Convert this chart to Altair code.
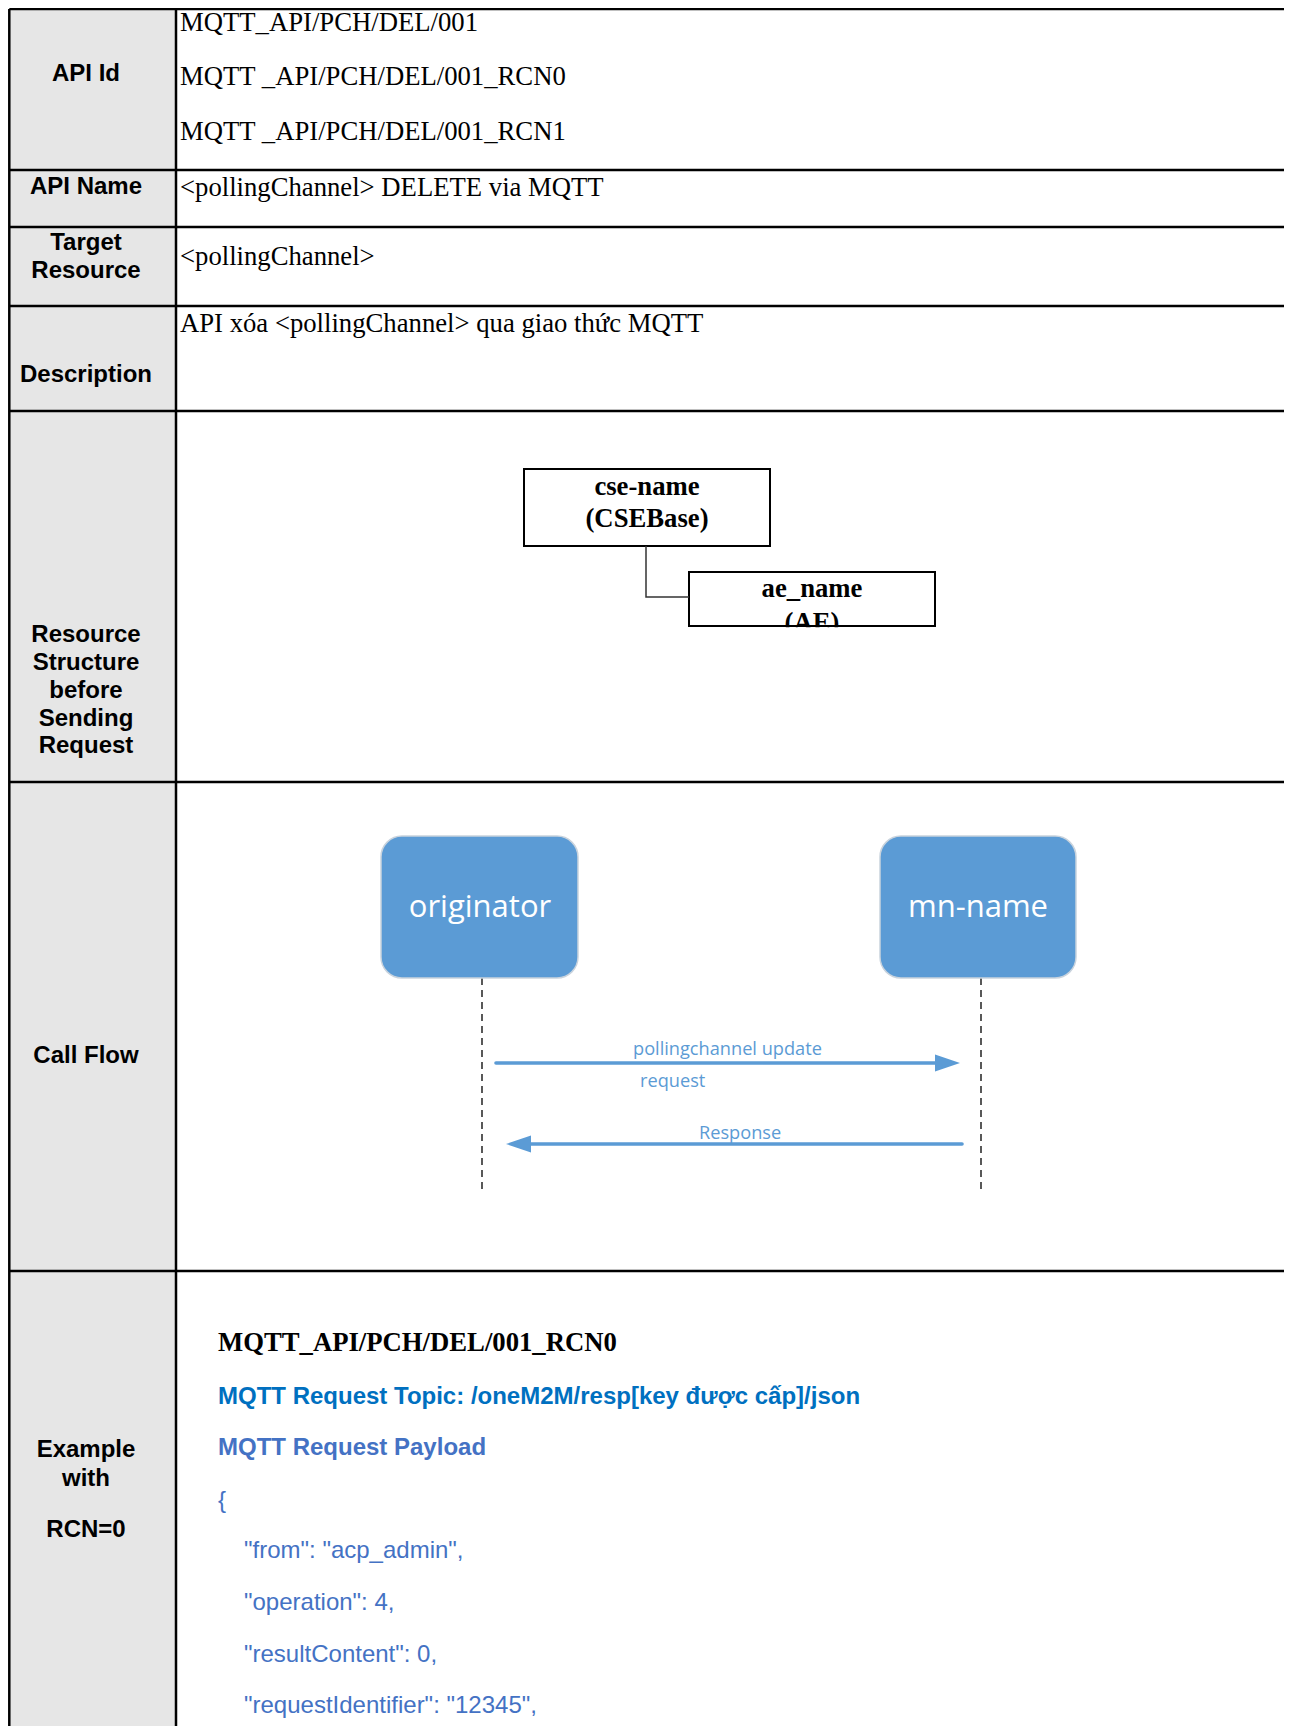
import altair as alt
import pandas as pd

# ---------------- data ----------------
# table grid
row_lines_y = [9, 170, 227, 306, 411, 782, 1271]
col_lines_x = [9.3, 176]

# left header column labels (centre x, baseline y)
head_text = ["API Id", "API Name", "Target", "Resource", "Description",
             "Resource", "Structure", "before", "Sending", "Request",
             "Call Flow", "Example", "with", "RCN=0"]
head_y = [81, 194, 250, 278, 382, 642, 670, 698, 726, 753, 1063, 1457, 1486, 1537]

# right column serif lines
body_text = ["MQTT_API/PCH/DEL/001", "MQTT _API/PCH/DEL/001_RCN0",
             "MQTT _API/PCH/DEL/001_RCN1", "<pollingChannel> DELETE via MQTT",
             "<pollingChannel>", "API xóa <pollingChannel> qua giao thức MQTT"]
body_y = [31, 85, 140, 196, 265, 332]

# resource-structure boxes
box_name = ["cse", "ae"]
box_x1 = [524, 689]
box_x2 = [770, 935]
box_y1 = [469, 572]
box_y2 = [546, 626]
box_text = ["cse-name", "(CSEBase)", "ae_name", "(AE)"]
box_text_x = [647, 647, 812, 812]
box_text_y = [495, 527, 597, 631]
conn_x = [646, 646, 689]
conn_y = [546, 597, 597]

# call flow actors
actor_text = ["originator", "mn-name"]
actor_x1 = [381, 880]
actor_x2 = [578, 1076]
actor_y1 = [836, 836]
actor_y2 = [978, 978]
actor_cx = [480, 978]
actor_base = [917, 917]
life_x = [482, 981]
life_y1 = [978, 978]
life_y2 = [1191, 1191]

# messages
msg_x1 = [496, 962]
msg_x2 = [940, 526]
msg_y = [1063, 1144]
head_r_x, head_r_y = [947.5], [1063]
head_l_x, head_l_y = [518.5], [1144]
msg_text = ["pollingchannel update", "request", "Response"]
msg_text_x = [633, 640, 699]
msg_text_y = [1055, 1087, 1139]

# example block
ex_title = ["MQTT_API/PCH/DEL/001_RCN0"]
ex_title_y = [1351]
topic_text = ["MQTT Request Topic: /oneM2M/resp[key được cấp]/json"]
topic_y = [1404]
payload_text = ["MQTT Request Payload"]
payload_y = [1455]
json_text = ["{", "\"from\": \"acp_admin\",", "\"operation\": 4,",
             "\"resultContent\": 0,", "\"requestIdentifier\": \"12345\","]
json_x = [218, 244, 244, 244, 244]
json_y = [1508, 1558, 1610, 1662, 1713]

# ---------------- scales ----------------
W, H = 1276, 1718
xs = alt.Scale(domain=[8, 8 + W])
ys = alt.Scale(domain=[8, 8 + H], reverse=True)
X = lambda f: alt.X(f, type="quantitative", scale=xs, axis=None)
Y = lambda f: alt.Y(f, type="quantitative", scale=ys, axis=None)
X2 = lambda f: alt.X2(f)
Y2 = lambda f: alt.Y2(f)

SANS = "Liberation Sans"
SERIF = "Liberation Serif"
UI = "Open Sans"

layers = []

# left column fill
fill = pd.DataFrame({"x1": [col_lines_x[0]], "x2": [col_lines_x[1]], "y1": [row_lines_y[0]], "y2": [1740]})
layers.append(alt.Chart(fill).mark_rect(color="#E6E6E6", clip=True).encode(
    x=X("x1"), x2=X2("x2"), y=Y("y1"), y2=Y2("y2")))

# horizontal grid lines
hl = pd.DataFrame({"y": row_lines_y, "x1": col_lines_x[0], "x2": 1300})
layers.append(alt.Chart(hl).mark_rule(color="black", strokeWidth=2.5, clip=True).encode(
    x=X("x1"), x2=X2("x2"), y=Y("y")))
# vertical grid lines
vl = pd.DataFrame({"x": col_lines_x, "y1": row_lines_y[0], "y2": 1740})
layers.append(alt.Chart(vl).mark_rule(color="black", strokeWidth=2.5, clip=True).encode(
    x=X("x"), y=Y("y1"), y2=Y2("y2")))

# header labels
hd = pd.DataFrame({"t": head_text, "x": 86, "y": head_y})
layers.append(alt.Chart(hd).mark_text(font=SANS, fontSize=24, fontWeight="bold", color="#000000",
                                      align="center", baseline="alphabetic").encode(
    x=X("x"), y=Y("y"), text="t:N"))

# body serif text
bd = pd.DataFrame({"t": body_text, "x": 180, "y": body_y})
layers.append(alt.Chart(bd).mark_text(font=SERIF, fontSize=26.7, color="#000000",
                                      align="left", baseline="alphabetic").encode(
    x=X("x"), y=Y("y"), text="t:N"))

# structure boxes
bx = pd.DataFrame({"n": box_name, "x1": box_x1, "x2": box_x2, "y1": box_y1, "y2": box_y2})
layers.append(alt.Chart(bx).mark_rect(fill="white", stroke="black", strokeWidth=2).encode(
    x=X("x1"), x2=X2("x2"), y=Y("y1"), y2=Y2("y2")))
cn = pd.DataFrame({"x": conn_x, "y": conn_y, "o": [0, 1, 2]})
layers.append(alt.Chart(cn).mark_line(color="#333333", strokeWidth=1.5).encode(
    x=X("x"), y=Y("y"), order="o:Q"))
bt = pd.DataFrame({"t": box_text, "x": box_text_x, "y": box_text_y})
layers.append(alt.Chart(bt).mark_text(font=SERIF, fontSize=26.7, fontWeight="bold", color="black",
                                      align="center", baseline="alphabetic").encode(
    x=X("x"), y=Y("y"), text="t:N"))
# clip the "(AE)" label under the box bottom edge
cover = pd.DataFrame({"x1": [box_x1[1] + 10], "x2": [box_x2[1] - 10], "y1": [box_y2[1] + 1.2], "y2": [box_y2[1] + 14]})
layers.append(alt.Chart(cover).mark_rect(color="white").encode(
    x=X("x1"), x2=X2("x2"), y=Y("y1"), y2=Y2("y2")))
bot = pd.DataFrame({"x1": [box_x1[1]], "x2": [box_x2[1]], "y": [box_y2[1]]})
layers.append(alt.Chart(bot).mark_rule(color="black", strokeWidth=2).encode(
    x=X("x1"), x2=X2("x2"), y=Y("y")))

# lifelines
lf = pd.DataFrame({"x": life_x, "y1": life_y1, "y2": life_y2})
layers.append(alt.Chart(lf).mark_rule(color="black", strokeWidth=1.3, strokeDash=[7, 5]).encode(
    x=X("x"), y=Y("y1"), y2=Y2("y2")))

# actors
ac = pd.DataFrame({"t": actor_text, "x1": actor_x1, "x2": actor_x2, "y1": actor_y1, "y2": actor_y2,
                   "cx": actor_cx, "by": actor_base})
layers.append(alt.Chart(ac).mark_rect(fill="#5B9BD5", stroke="#C9D3DD", strokeWidth=1.5, cornerRadius=21).encode(
    x=X("x1"), x2=X2("x2"), y=Y("y1"), y2=Y2("y2")))
layers.append(alt.Chart(ac).mark_text(font=UI, fontSize=31, color="white",
                                      align="center", baseline="alphabetic").encode(
    x=X("cx"), y=Y("by"), text="t:N"))

# messages
ms = pd.DataFrame({"x1": msg_x1, "x2": msg_x2, "y": msg_y})
layers.append(alt.Chart(ms).mark_rule(color="#5B9BD5", strokeWidth=3.6, strokeCap="round").encode(
    x=X("x1"), x2=X2("x2"), y=Y("y")))
hr = pd.DataFrame({"x": head_r_x, "y": head_r_y})
layers.append(alt.Chart(hr).mark_point(shape="M-1,-0.68L1,0L-1,0.68Z", size=625, filled=True,
                                       color="#5B9BD5", opacity=1).encode(x=X("x"), y=Y("y")))
hlf = pd.DataFrame({"x": head_l_x, "y": head_l_y})
layers.append(alt.Chart(hlf).mark_point(shape="M1,-0.68L-1,0L1,0.68Z", size=625, filled=True,
                                        color="#5B9BD5", opacity=1).encode(x=X("x"), y=Y("y")))
mt = pd.DataFrame({"t": msg_text, "x": msg_text_x, "y": msg_text_y})
layers.append(alt.Chart(mt).mark_text(font=UI, fontSize=18.2, color="#5B9BD5",
                                      align="left", baseline="alphabetic").encode(
    x=X("x"), y=Y("y"), text="t:N"))

# example block
et = pd.DataFrame({"t": ex_title, "x": 218, "y": ex_title_y})
layers.append(alt.Chart(et).mark_text(font=SERIF, fontSize=26.7, fontWeight="bold", color="black",
                                      align="left", baseline="alphabetic").encode(
    x=X("x"), y=Y("y"), text="t:N"))
tp = pd.DataFrame({"t": topic_text, "x": 218, "y": topic_y})
layers.append(alt.Chart(tp).mark_text(font=SANS, fontSize=24, fontWeight="bold", color="#0070C0",
                                      align="left", baseline="alphabetic").encode(
    x=X("x"), y=Y("y"), text="t:N"))
pl = pd.DataFrame({"t": payload_text, "x": 218, "y": payload_y})
layers.append(alt.Chart(pl).mark_text(font=SANS, fontSize=24, fontWeight="bold", color="#4472C4",
                                      align="left", baseline="alphabetic").encode(
    x=X("x"), y=Y("y"), text="t:N"))
js = pd.DataFrame({"t": json_text, "x": json_x, "y": json_y})
layers.append(alt.Chart(js).mark_text(font=SANS, fontSize=24, color="#4472C4",
                                      align="left", baseline="alphabetic").encode(
    x=X("x"), y=Y("y"), text="t:N"))

chart = alt.layer(*layers).properties(
    width=W, height=H, padding=0, autosize=alt.AutoSizeParams(type="none"),
    background="white"
).configure_view(stroke=None)

chart.save("out.html", embed_options={"renderer": "svg", "actions": False})
